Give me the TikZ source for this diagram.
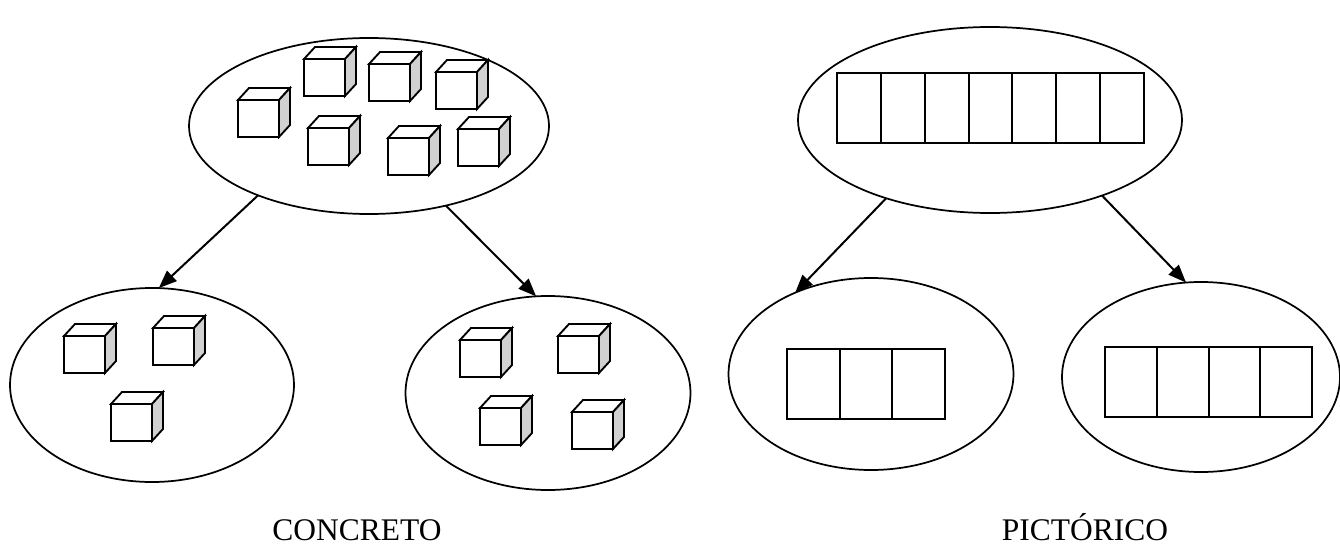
\documentclass[tikz,border=0pt]{standalone}
\usepackage{fontspec}
\setmainfont{Liberation Serif}
\usetikzlibrary{arrows.meta,calc,shapes.geometric}
\tikzset{
  oval/.style={draw, ellipse, line width=1.3pt, inner sep=0pt, outer sep=0pt},
  bar/.style={draw, rectangle, line width=1.5pt, inner sep=0pt, outer sep=0pt, minimum height=70*0.75pt},
  cellline/.style={line width=1.5pt},
  conn/.style={line width=1.5pt, -{Triangle[length=13.5pt,width=10.5pt]}},
  label/.style={font=\fontsize{23.6pt}{28pt}\selectfont, anchor=base, inner sep=0pt},
  cube/.pic={
    \draw[line width=1.4pt, line join=miter, fill=white] (0,0) -- (11,-12) -- (52,-12) -- (41,0) -- cycle;
    \draw[line width=1.4pt, line join=miter, fill=black!18] (41,0) -- (52,-12) -- (52,25) -- (41,37) -- cycle;
    \draw[line width=1.4pt, line join=miter, fill=white] (0,0) rectangle (41,37);
  }
}
\begin{document}
\begin{tikzpicture}[x=0.75pt, y=-0.75pt]
\useasboundingbox (0,0) rectangle (1340,546);
% ellipses
\node[oval, minimum width=360*0.75pt, minimum height=176*0.75pt] (tl) at (369,126) {};
\node[oval, minimum width=284*0.75pt, minimum height=194*0.75pt] (bl) at (152,385) {};
\node[oval, minimum width=285*0.75pt, minimum height=194*0.75pt] (bm) at (548,393) {};
\node[oval, minimum width=384*0.75pt, minimum height=186*0.75pt] (tr) at (990,120) {};
\node[oval, minimum width=285*0.75pt, minimum height=192*0.75pt] (r1) at (871,374) {};
\node[oval, minimum width=278*0.75pt, minimum height=190*0.75pt] (r2) at (1201,377) {};
% cubes
\foreach \p in {(238,100),(304,59),(369,64),(436,72),(308,128),(388,138),(458,129),
                (64,336),(153,328),(111,404),
                (460,340),(558,336),(480,408),(572,412)}
  \pic at \p {cube};
% bars
\node[bar, minimum width=307*0.75pt] (b7) at (990.5,108) {};
\foreach \k in {1,...,6}
  \draw[cellline] ($(b7.north west)!\k/7!(b7.north east)$) -- ($(b7.south west)!\k/7!(b7.south east)$);
\node[bar, minimum width=158*0.75pt] (b3) at (866,384) {};
\foreach \k in {1,2}
  \draw[cellline] ($(b3.north west)!\k/3!(b3.north east)$) -- ($(b3.south west)!\k/3!(b3.south east)$);
\node[bar, minimum width=207*0.75pt] (b4) at (1208.5,382) {};
\foreach \k in {1,2,3}
  \draw[cellline] ($(b4.north west)!\k/4!(b4.north east)$) -- ($(b4.south west)!\k/4!(b4.south east)$);
% arrows
\draw[conn] (tl.212.7) -- (bl.86.5);
\draw[conn] (tl.314.3) -- (bm.97.6);
\draw[conn] (tr.217) -- (r1.133);
\draw[conn] (tr.326.8) -- (r2.99.4);
% labels
\node[label] (concreto) at (357,540) {CONCRETO};
\node[label] (pictorico) at (1085,540) {PICTÓRICO};
\end{tikzpicture}
\end{document}
